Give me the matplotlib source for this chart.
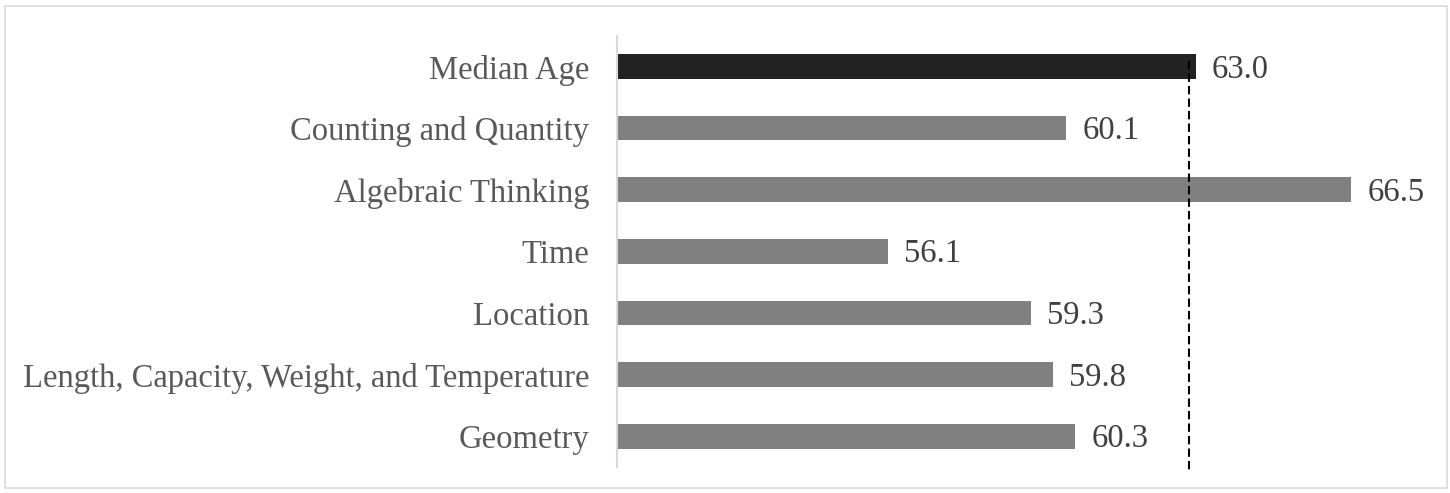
import matplotlib
matplotlib.use("Agg")
import matplotlib.pyplot as plt
from matplotlib.patches import Rectangle

categories = ["Median Age", "Counting and Quantity", "Algebraic Thinking", "Time",
              "Location", "Length, Capacity, Weight, and Temperature", "Geometry"]
values = [63.0, 60.1, 66.5, 56.1, 59.3, 59.8, 60.3]
bar_colors = ["#222222"] + ["#808080"] * 6
reference_value = 62.85

W, H = 1450, 493
fig = plt.figure(figsize=(W / 100, H / 100), dpi=100)
fig.patch.set_facecolor("white")
fig.patches.append(Rectangle((5 / W, 1 - 488 / H), 1442 / W, 482 / H,
                             transform=fig.transFigure, fill=False,
                             edgecolor="#d9d9d9", linewidth=1.2))

left = 617 / W
right = 1418 / W
top = 1 - 35.7 / H
bottom = 1 - 467 / H
ax = fig.add_axes([left, bottom, right - left, top - bottom])

y = list(range(len(categories)))
ax.barh(y, [v - 50 for v in values], left=50, height=0.4, color=bar_colors)
ax.set_xlim(50, 68)
ax.set_ylim(len(categories) - 0.5, -0.5)

font = "Liberation Serif"
for yi, v in zip(y, values):
    ax.annotate(f"{v:.1f}", (v, yi), xytext=(11.5, -2), textcoords="offset points",
                ha="left", va="center", fontsize=23.5, color="#404040",
                family=font)

ax.set_yticks(y)
ax.set_yticklabels(categories, family=font, fontsize=23.5, color="#595959")
ax.tick_params(axis="y", length=0, pad=20)
ax.set_xticks([])

ax.vlines(reference_value, -0.09, 6.575, colors="black", linestyles=(0, (4, 2)),
          linewidth=1.5, clip_on=False)

for s in ["top", "right", "bottom"]:
    ax.spines[s].set_visible(False)
ax.spines["left"].set_color("#d9d9d9")
ax.spines["left"].set_linewidth(1.5)

fig.savefig("out.png", dpi=100, facecolor="white")
